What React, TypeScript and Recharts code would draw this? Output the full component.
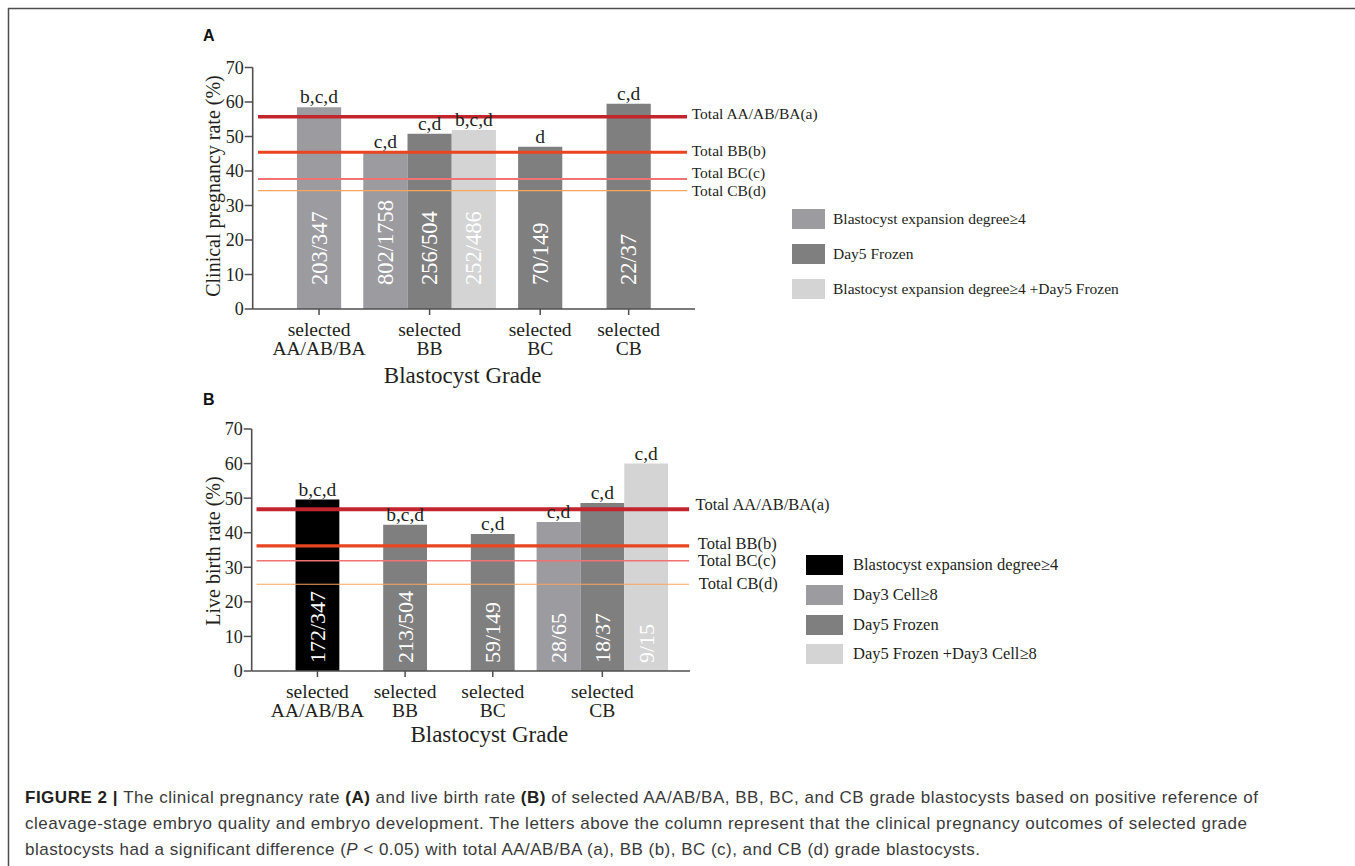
import { Bar, BarChart, Cell, LabelList, Legend, ReferenceLine, XAxis, YAxis } from "recharts"

const serif = "'Liberation Serif', 'Times New Roman', serif"
const sans = "'Liberation Sans', Arial, sans-serif"
const ink = "#231f20"
const axisGray = "#4f4f4f"

const grades = ["AA/AB/BA", "BB", "BC", "CB"]
const rateTicks = [0, 10, 20, 30, 40, 50, 60, 70]
const totalNames = ["Total AA/AB/BA(a)", "Total BB(b)", "Total BC(c)", "Total CB(d)"]

// panel A: clinical pregnancy rate
const seriesA = ["Blastocyst expansion degree≥4", "Day5 Frozen", "Blastocyst expansion degree≥4 +Day5 Frozen"]
const gradeOfBarA = [0, 1, 1, 1, 2, 3]
const seriesOfBarA = [0, 0, 1, 2, 1, 1]
const ratesA = [58.5, 45.6, 50.8, 51.9, 47.0, 59.5]
const countsA = ["203/347", "802/1758", "256/504", "252/486", "70/149", "22/37"]
const lettersA = ["b,c,d", "c,d", "c,d", "b,c,d", "d", "c,d"]
const totalsA = [55.7, 45.4, 37.7, 34.3]

// panel B: live birth rate
const seriesB = ["Blastocyst expansion degree≥4", "Day3 Cell≥8", "Day5 Frozen", "Day5 Frozen +Day3 Cell≥8"]
const gradeOfBarB = [0, 1, 2, 3, 3, 3]
const seriesOfBarB = [0, 2, 2, 1, 2, 3]
const ratesB = [49.6, 42.3, 39.6, 43.1, 48.6, 60.0]
const countsB = ["172/347", "213/504", "59/149", "28/65", "18/37", "9/15"]
const lettersB = ["b,c,d", "b,c,d", "c,d", "c,d", "c,d", "c,d"]
const totalsB = [46.8, 36.2, 31.9, 25.1]

const lineColors = ["#c3252d", "#ea4521", "#f07373", "#f8a65c"]

// gaps are measured in bar widths
function layoutBars(gradeOf: number[], gaps: number[], trailing: number) {
  const xs: number[] = []
  const start: number[] = []
  const end: number[] = []
  let pos = 0
  gradeOf.forEach((g, i) => {
    if (i === 0 || gradeOf[i - 1] !== g) {
      pos += gaps[g]
      start[g] = pos
    }
    xs.push(pos + 0.5)
    pos += 1
    end[g] = pos
  })
  return { xs, centers: start.map((s, g) => (s + end[g]) / 2), span: pos + trailing }
}

const boxOf = (props: any) => {
  const vb = props.viewBox ?? {}
  return {
    x: vb.x ?? props.x,
    y: vb.y ?? props.y,
    w: vb.width ?? props.width,
    h: vb.height ?? props.height,
  }
}

const panelA = {
  top: 0,
  height: 390,
  plotTop: 67.5,
  plotBottom: 309,
  plotLeft: 252.7,
  plotRight: 695,
  gradeOf: gradeOfBarA,
  seriesOf: seriesOfBarA,
  rates: ratesA,
  counts: countsA,
  letters: lettersA,
  totals: totalsA,
  seriesNames: seriesA,
  colors: ["#9b9ba0", "#7f7f7f", "#d4d4d4"],
  gaps: [1, 0.5, 0.5, 1],
  trailing: 1,
  yTitle: "Clinical pregnancy rate (%)",
  yTitleAt: [212.5, 186],
  xTitleAt: [462.7, 375.7],
  countLift: 24,
  countFont: 22.5,
  lineFrom: 0.12,
  lineTo: 9.82,
  lineWidths: [3.5, 3, 2, 1.2],
  lineLabelDx: [4.7, 4.7, 4.7, 4.7],
  lineLabelDy: [-3.7, -2, -6, 0],
  refFont: 15.5,
  legendTop: 201.7,
  legendStep: 35,
  legendLeft: 792,
  boxW: 33,
  textGap: 8,
  legendFont: 15.5,
}

const panelB = {
  top: 380,
  height: 400,
  plotTop: 429,
  plotBottom: 671,
  plotLeft: 251.7,
  plotRight: 690,
  gradeOf: gradeOfBarB,
  seriesOf: seriesOfBarB,
  rates: ratesB,
  counts: countsB,
  letters: lettersB,
  totals: totalsB,
  seriesNames: seriesB,
  colors: ["#000000", "#9b9ba0", "#7f7f7f", "#d4d4d4"],
  gaps: [1, 1, 1, 0.5],
  trailing: 0.5,
  yTitle: "Live birth rate (%)",
  yTitleAt: [212.5, 551],
  xTitleAt: [489.3, 734.5],
  countLift: 8,
  countFont: 22,
  lineFrom: 0.11,
  lineTo: 9.98,
  lineWidths: [4, 3.3, 1.6, 1.1],
  lineLabelDx: [6.4, 8.7, 8.7, 9.7],
  lineLabelDy: [-5, -2.7, -0.7, -1],
  refFont: 16.5,
  legendTop: 550.1,
  legendStep: 29.8,
  legendLeft: 806,
  boxW: 36.6,
  textGap: 10.4,
  legendFont: 16.5,
}

function Panel({ p }: { p: any }) {
  const { xs, centers, span } = layoutBars(p.gradeOf, p.gaps, p.trailing)
  const rows = xs.map((x, i) => ({
    x,
    rate: p.rates[i],
    count: p.counts[i],
    letters: p.letters[i],
    series: p.seriesOf[i],
  }))
  const unit = (p.plotRight - p.plotLeft) / span
  const yAxisW = 60
  const xAxisH = 60
  const margin = {
    top: p.plotTop - p.top,
    left: p.plotLeft - yAxisW,
    right: 1355 - p.plotRight,
    bottom: p.top + p.height - p.plotBottom - xAxisH,
  }

  const gradeTick = (props: any) => {
    const { x, payload } = props
    const g = centers.findIndex((c) => Math.abs(c - payload.value) < 1e-6)
    const base = p.plotBottom - p.top
    return (
      <g>
        <text x={x} y={base + 20.3} textAnchor="middle" dominantBaseline="central" fontSize={19.5} fill={ink} fontFamily={serif}>
          selected
        </text>
        <text x={x} y={base + 39.3} textAnchor="middle" dominantBaseline="central" fontSize={19.5} fill={ink} fontFamily={serif}>
          {grades[g]}
        </text>
      </g>
    )
  }

  return (
    <div style={{ position: "absolute", left: 0, top: p.top }}>
      <BarChart width={1355} height={p.height} data={rows} margin={margin} style={{ fontFamily: serif }}>
        <XAxis
          type="number"
          dataKey="x"
          domain={[0, span]}
          ticks={centers}
          interval={0}
          height={xAxisH}
          padding={{ left: 0, right: 0 }}
          axisLine={{ stroke: axisGray, strokeWidth: 1.6 }}
          tickLine={{ stroke: axisGray, strokeWidth: 1.5 }}
          tickSize={6}
          tickMargin={0}
          tick={gradeTick}
          label={() => (
            <text
              x={p.xTitleAt[0]}
              y={p.xTitleAt[1] - p.top}
              textAnchor="middle"
              dominantBaseline="central"
              fontSize={23}
              fill={ink}
              fontFamily={serif}
            >
              Blastocyst Grade
            </text>
          )}
        />
        <YAxis
          type="number"
          domain={[0, 70]}
          ticks={rateTicks}
          interval={0}
          width={yAxisW}
          axisLine={{ stroke: axisGray, strokeWidth: 1.6 }}
          tickLine={{ stroke: axisGray, strokeWidth: 1.5 }}
          tickSize={8}
          tickMargin={1}
          tick={{ fill: ink, fontSize: 18, fontFamily: serif }}
          label={() => (
            <text
              transform={`translate(${p.yTitleAt[0]}, ${p.yTitleAt[1] - p.top}) rotate(-90)`}
              textAnchor="middle"
              dominantBaseline="central"
              fontSize={20}
              fill={ink}
              fontFamily={serif}
            >
              {p.yTitle}
            </text>
          )}
        />
        <Bar dataKey="rate" barSize={unit - 0.02} isAnimationActive={false}>
          {rows.map((r, i) => (
            <Cell key={i} fill={p.colors[r.series]} />
          ))}
          <LabelList
            dataKey="letters"
            content={(lp: any) => {
              const b = boxOf(lp)
              return (
                <text x={b.x + b.w / 2} y={b.y - 4} textAnchor="middle" fontSize={19.5} fill={ink} fontFamily={serif}>
                  {lp.value}
                </text>
              )
            }}
          />
          <LabelList
            dataKey="count"
            content={(lp: any) => {
              const b = boxOf(lp)
              const bottom = b.y + b.h
              return (
                <text
                  transform={`translate(${b.x + b.w / 2}, ${bottom - p.countLift}) rotate(-90)`}
                  textAnchor="start"
                  dominantBaseline="central"
                  fontSize={p.countFont}
                  fill="#ffffff"
                  fontFamily={serif}
                >
                  {lp.value}
                </text>
              )
            }}
          />
        </Bar>
        {p.totals.map((t: number, i: number) => (
          <ReferenceLine
            key={totalNames[i]}
            segment={[
              { x: p.lineFrom, y: t },
              { x: p.lineTo, y: t },
            ]}
            stroke={lineColors[i]}
            strokeWidth={p.lineWidths[i]}
            label={(lp: any) => {
              const b = boxOf(lp)
              return (
                <text
                  x={b.x + b.w + p.lineLabelDx[i]}
                  y={b.y + p.lineLabelDy[i]}
                  dominantBaseline="central"
                  fontSize={p.refFont}
                  fill={ink}
                  fontFamily={serif}
                >
                  {totalNames[i]}
                </text>
              )
            }}
          />
        ))}
        <Legend
          layout="vertical"
          align="center"
          verticalAlign="middle"
          wrapperStyle={{ left: p.legendLeft, top: p.legendTop - p.top, width: "auto", height: "auto" }}
          content={() => (
            <div style={{ fontFamily: serif, fontSize: p.legendFont, color: ink }}>
              {p.seriesNames.map((name: string, i: number) => (
                <div key={name} style={{ display: "flex", alignItems: "center", height: p.legendStep, whiteSpace: "nowrap" }}>
                  <span style={{ width: p.boxW, height: 20, background: p.colors[i], display: "inline-block", flex: "none" }} />
                  <span style={{ marginLeft: p.textGap }}>{name}</span>
                </div>
              ))}
            </div>
          )}
        />
      </BarChart>
    </div>
  )
}

export default function App() {
  return (
    <div style={{ position: "absolute", left: 0, top: 0, width: 1355, height: 866, background: "#fff", overflow: "hidden" }}>
      <svg width={1355} height={866} style={{ position: "absolute", left: 0, top: 0 }}>
        <line x1={8} y1={8.5} x2={1355} y2={8.5} stroke="#4d4d4d" strokeWidth={1.5} />
        <line x1={8.5} y1={8} x2={8.5} y2={866} stroke="#4d4d4d" strokeWidth={1.5} />
        <text x={203} y={40.5} fontFamily={sans} fontWeight="bold" fontSize={16} fill="#111">
          A
        </text>
        <text x={203} y={404.5} fontFamily={sans} fontWeight="bold" fontSize={16} fill="#111">
          B
        </text>
        <g fontFamily={sans} fontSize={17} fill="#3a3a3a">
          <text x={25} y={803.3} textLength={1233} lengthAdjust="spacing">
            <tspan fontWeight="bold" fill="#231f20">FIGURE 2 | </tspan>The clinical pregnancy rate{" "}
            <tspan fontWeight="bold" fill="#231f20">(A)</tspan> and live birth rate{" "}
            <tspan fontWeight="bold" fill="#231f20">(B)</tspan> of selected AA/AB/BA, BB, BC, and CB grade blastocysts based on positive reference of
          </text>
          <text x={25} y={829.3} textLength={1222} lengthAdjust="spacing">
            cleavage-stage embryo quality and embryo development. The letters above the column represent that the clinical pregnancy outcomes of selected grade
          </text>
          <text x={25} y={855} textLength={955} lengthAdjust="spacing">
            blastocysts had a significant difference (<tspan fontStyle="italic">P</tspan> &lt; 0.05) with total AA/AB/BA (a), BB (b), BC (c), and CB (d) grade blastocysts.
          </text>
        </g>
      </svg>
      <Panel p={panelA} />
      <Panel p={panelB} />
    </div>
  )
}
